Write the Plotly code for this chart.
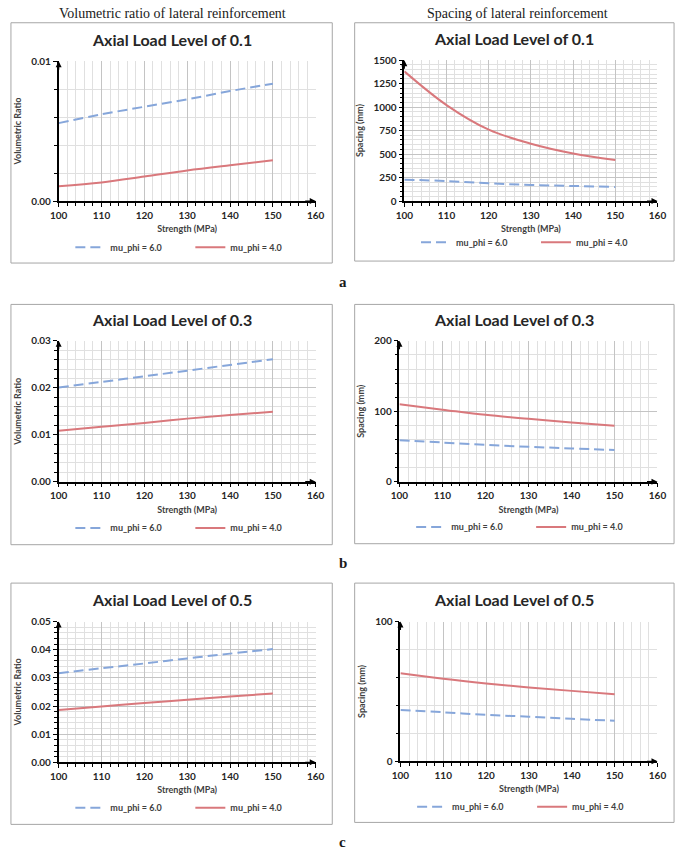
import plotly.graph_objects as go

# ---------------- data ----------------
STRENGTH = [100, 110, 120, 130, 140, 150]

# Volumetric ratio of lateral reinforcement
VR_01_MU6 = [0.00557, 0.00620, 0.00674, 0.00727, 0.00786, 0.00839]
VR_01_MU4 = [0.00105, 0.00133, 0.00175, 0.00219, 0.00256, 0.00291]
VR_03_MU6 = [0.02007, 0.02125, 0.02245, 0.02365, 0.02487, 0.02608]
VR_03_MU4 = [0.01084, 0.01170, 0.01252, 0.01343, 0.01420, 0.01490]
VR_05_MU6 = [0.03163, 0.03340, 0.03510, 0.03690, 0.03860, 0.04023]
VR_05_MU4 = [0.01860, 0.01985, 0.02105, 0.02220, 0.02337, 0.02442]

# Spacing of lateral reinforcement (mm)
SP_01_MU6 = [227, 213, 188, 171, 160, 150]
SP_01_MU4 = [1381, 1022, 760, 610, 506, 436]
SP_03_MU6 = [58.9, 55.6, 52.3, 49.5, 47.2, 44.9]
SP_03_MU4 = [109.8, 102.3, 94.9, 89.3, 84.1, 79.4]
SP_05_MU6 = [36.8, 35.1, 33.3, 31.9, 30.4, 29.0]
SP_05_MU4 = [63.0, 59.0, 55.7, 52.9, 50.4, 48.0]

SERIES_NAMES = ["mu_phi = 6.0", "mu_phi = 4.0"]
PANEL_TITLES = ["Axial Load Level of 0.1", "Axial Load Level of 0.1",
                "Axial Load Level of 0.3", "Axial Load Level of 0.3",
                "Axial Load Level of 0.5", "Axial Load Level of 0.5"]
Y_TITLES = ["Volumetric Ratio", "Spacing (mm)"] * 3
X_TITLE = "Strength (MPa)"
COLUMN_HEADERS = ["Volumetric ratio of lateral reinforcement", "Spacing of lateral reinforcement"]
ROW_LABELS = ["a", "b", "c"]

# ---------------- layout helpers ----------------
W, H = 685, 855
def px(x):
    return x / W
def py(y):
    return 1 - y / H

SANS = "Lato, Carlito, Calibri, 'Noto Sans', sans-serif"
SERIF = "'Liberation Serif', 'Times New Roman', serif"
BLUE = "#86a6da"
RED = "#d9787c"
MAJOR_GRID = "#c4c4c4"
MINOR_GRID = "#e0e0e0"

# panel geometry in pixels: plot area (x0, x1, y_top, y_bottom), box (x0, x1, y0, y1)
panels = [
    dict(plot=(51, 315, 55, 197), box=(2, 332, 16, 260), legend_y=244,
         data=(VR_01_MU6, VR_01_MU4), yr=(0, 0.01), dt=0.01, mdt=0.002, fmt=".2f"),
    dict(plot=(406, 666, 54, 197), box=(355, 683, 16, 258), legend_y=239,
         data=(SP_01_MU6, SP_01_MU4), yr=(0, 1500), dt=250, mdt=50, fmt="d"),
    dict(plot=(51, 315, 339, 482), box=(2, 332, 302, 546), legend_y=529,
         data=(VR_03_MU6, VR_03_MU4), yr=(0, 0.03), dt=0.01, mdt=0.002, fmt=".2f"),
    dict(plot=(401, 666, 339, 482), box=(355, 683, 302, 545), legend_y=528,
         data=(SP_03_MU6, SP_03_MU4), yr=(0, 200), dt=100, mdt=20, fmt="d"),
    dict(plot=(51, 315, 624, 767), box=(2, 332, 585, 830), legend_y=813,
         data=(VR_05_MU6, VR_05_MU4), yr=(0, 0.05), dt=0.01, mdt=0.002, fmt=".2f"),
    dict(plot=(402, 666, 624, 766), box=(355, 683, 585, 828), legend_y=812,
         data=(SP_05_MU6, SP_05_MU4), yr=(0, 100), dt=100, mdt=20, fmt="d"),
]

fig = go.Figure()
layout = dict(
    width=W, height=H, autosize=False,
    margin=dict(l=0, r=0, t=0, b=0),
    paper_bgcolor="white", plot_bgcolor="white",
    font=dict(family=SANS, color="#404040"),
)
shapes = []
annotations = []

for i, p in enumerate(panels):
    n = i + 1
    sfx = "" if n == 1 else str(n)
    xa, ya = f"x{sfx}", f"y{sfx}"
    leg = "legend" if n == 1 else f"legend{n}"
    x0, x1, yt, yb = p["plot"]

    for name, vals, color, dash in zip(SERIES_NAMES, p["data"], [BLUE, RED], ["10px,5px", "solid"]):
        fig.add_trace(go.Scatter(
            x=STRENGTH, y=vals, name=name, mode="lines",
            line=dict(color=color, width=2, dash=dash, shape="spline"),
            xaxis=xa, yaxis=ya, legend=leg,
        ))

    layout[f"xaxis{sfx}"] = dict(
        domain=[px(x0), px(x1)], anchor=ya, range=[100, 160],
        tick0=100, dtick=10, showgrid=True, gridcolor=MAJOR_GRID, gridwidth=1,
        showline=True, linecolor="black", linewidth=1.5, zeroline=False,
        ticks="outside", ticklen=4, tickcolor="black", tickwidth=1,
        tickfont=dict(family=SANS, size=10, color="#262626", weight="bold"),
        minor=dict(dtick=2, showgrid=True, gridcolor=MINOR_GRID, gridwidth=1,
                   ticks="outside", ticklen=3, tickcolor="black"),
        title=dict(text=X_TITLE, standoff=6,
                   font=dict(family=SANS, size=9, color="#404040", weight="bold")),
    )
    layout[f"yaxis{sfx}"] = dict(
        domain=[py(yb), py(yt)], anchor=xa, range=list(p["yr"]),
        tick0=0, dtick=p["dt"], tickformat=p["fmt"],
        showgrid=True, gridcolor=MAJOR_GRID, gridwidth=1,
        showline=True, linecolor="black", linewidth=1.5, zeroline=False,
        ticks="outside", ticklen=4, tickcolor="black", tickwidth=1,
        tickfont=dict(family=SANS, size=10, color="#262626", weight="bold"),
        minor=dict(dtick=p["mdt"], showgrid=True, gridcolor=MINOR_GRID, gridwidth=1,
                   ticks="outside", ticklen=3, tickcolor="black"),
        title=dict(text=Y_TITLES[i], standoff=8,
                   font=dict(family=SANS, size=9, color="#404040", weight="bold")),
    )
    layout[leg] = dict(
        orientation="h", x=px(x0 + 12), y=py(p["legend_y"]),
        xanchor="left", yanchor="middle",
        font=dict(family=SANS, size=9, color="#404040", weight="bold"),
        bgcolor="rgba(0,0,0,0)", entrywidth=75, entrywidthmode="pixels",
        itemwidth=30, tracegroupgap=0,
    )

    bx0, bx1, by0, by1 = p["box"]
    shapes.append(dict(type="rect", xref="paper", yref="paper",
                       x0=px(bx0), x1=px(bx1), y0=py(by1), y1=py(by0),
                       line=dict(color="#a6a6a6", width=1), layer="below"))

    # panel title
    annotations.append(dict(text=PANEL_TITLES[i], xref="paper", yref="paper",
                            x=px((bx0 + bx1) / 2), y=py(yt - 22), xanchor="center", yanchor="middle",
                            showarrow=False,
                            font=dict(family=SANS, size=16, color="#262626", weight="bold")))
    # axis arrows
    annotations.append(dict(text="", xref=f"{xa} domain", yref=f"{ya} domain", x=0, y=1,
                            ax=0, ay=10, axref="pixel", ayref="pixel", showarrow=True,
                            arrowhead=2, arrowsize=1, arrowwidth=1.2, arrowcolor="black"))
    annotations.append(dict(text="", xref=f"{xa} domain", yref=f"{ya} domain", x=1, y=0,
                            ax=-12, ay=0, axref="pixel", ayref="pixel", showarrow=True,
                            arrowhead=2, arrowsize=1, arrowwidth=1.2, arrowcolor="black"))

# column headers
for text, cx in zip(COLUMN_HEADERS, [168, 522]):
    annotations.append(dict(text=text, xref="paper", yref="paper", x=px(cx), y=py(7),
                            xanchor="center", yanchor="middle", showarrow=False,
                            font=dict(family=SERIF, size=14, color="#1a1a1a")))
# row labels
for text, cy in zip(ROW_LABELS, [279, 565, 848]):
    annotations.append(dict(text=text, xref="paper", yref="paper", x=px(343), y=py(cy),
                            xanchor="center", yanchor="middle", showarrow=False,
                            font=dict(family=SERIF, size=15, color="#1a1a1a", weight="bold")))

layout["shapes"] = shapes
layout["annotations"] = annotations
fig.update_layout(**layout)
fig.write_html(
    "out.html",
    config={"displayModeBar": False},
    post_script="document.body.style.margin='0';document.body.style.overflow='hidden';",
)
